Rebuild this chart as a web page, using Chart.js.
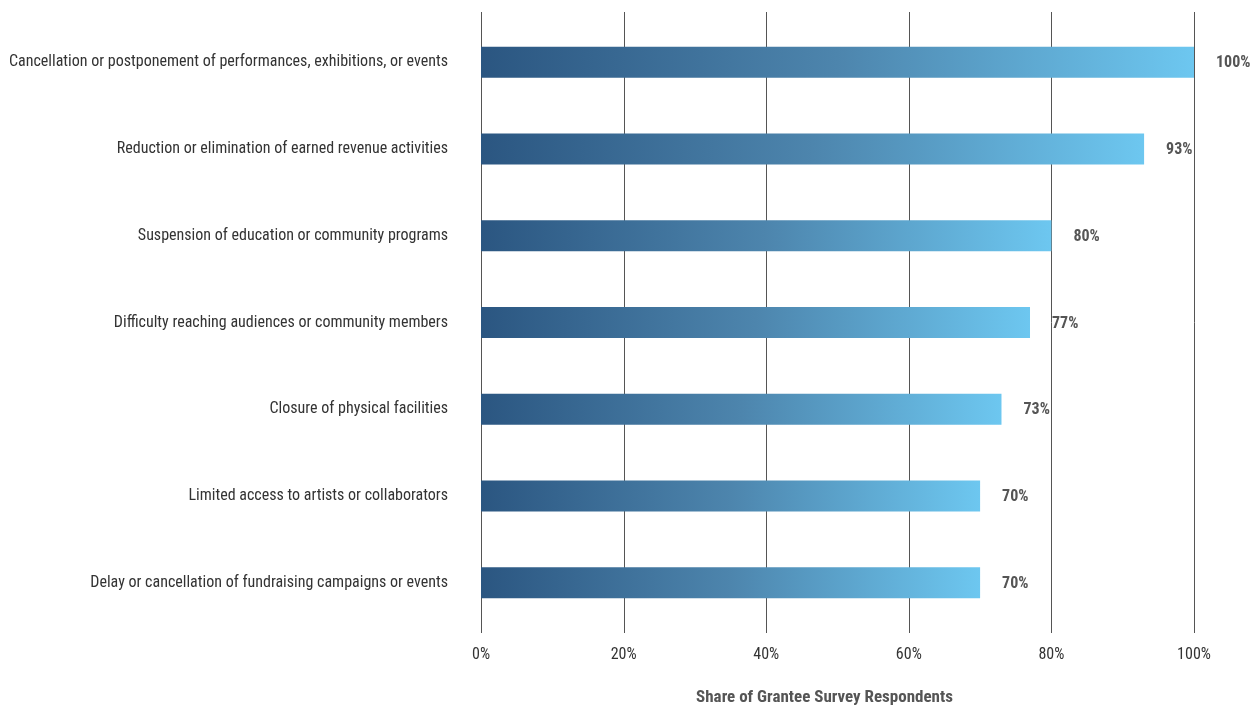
<!DOCTYPE html>
<html>
<head>
<meta charset="utf-8">
<script src="https://cdn.jsdelivr.net/npm/chart.js@4"></script>
<style>
  html, body { margin: 0; padding: 0; background: #fff; }
  #wrap { width: 1254px; height: 707px; position: relative; }
</style>
</head>
<body>
<div id="wrap"><canvas id="chart"></canvas></div>
<script>
const categories = [
    "Cancellation or postponement of performances, exhibitions, or events",
    "Reduction or elimination of earned revenue activities",
    "Suspension of education or community programs",
    "Difficulty reaching audiences or community members",
    "Closure of physical facilities",
    "Limited access to artists or collaborators",
    "Delay or cancellation of fundraising campaigns or events",
];
const shares = [100, 93, 80, 77, 73, 70, 70];
const tickValues = [0, 20, 40, 60, 80, 100];
const axisTitle = "Share of Grantee Survey Respondents";

const FONT = "'Roboto Condensed', 'Liberation Sans Narrow', 'DejaVu Sans Condensed', Roboto, sans-serif";

// gradient per bar, from its base to its end
function barGradient(ctx) {
    const chart = ctx.chart;
    if (!chart.chartArea) return "#2c5886";
    const x = chart.scales.x;
    const x0 = x.getPixelForValue(0);
    const x1 = x.getPixelForValue(shares[ctx.dataIndex]);
    const g = chart.ctx.createLinearGradient(x0, 0, x1, 0);
    g.addColorStop(0, "#2b5681");
    g.addColorStop(0.5, "#4d85ad");
    g.addColorStop(1, "#6dc7f0");
    return g;
}

const gridPlugin = {
    id: "grid",
    beforeDatasetsDraw(chart) {
        const { ctx, chartArea, scales } = chart;
        ctx.save();
        ctx.strokeStyle = "#555";
        ctx.lineWidth = 1;
        tickValues.forEach((v) => {
            const px = Math.round(scales.x.getPixelForValue(v)) + 0.5;
            ctx.beginPath();
            ctx.moveTo(px, chartArea.top - 7);
            ctx.lineTo(px, chartArea.bottom + 7);
            ctx.stroke();
        });
        ctx.restore();
    },
};

const valueLabels = {
    id: "valueLabels",
    afterDatasetsDraw(chart) {
        const { ctx, chartArea } = chart;
        const meta = chart.getDatasetMeta(0);
        ctx.save();
        ctx.font = "bold 16px " + FONT;
        ctx.fillStyle = "#555";
        ctx.textAlign = "left";
        ctx.textBaseline = "middle";
        meta.data.forEach((bar, i) => {
            ctx.fillText(shares[i] + "%", bar.x + 22, bar.y + 1);
        });
        // axis title, set a little left of the plot centre as in the source
        ctx.font = "bold 17px " + FONT;
        ctx.textAlign = "center";
        ctx.fillText(axisTitle, (chartArea.left + chartArea.right) / 2 - 13, chart.height - 9);
        ctx.restore();
    },
};

new Chart(document.getElementById("chart"), {
    type: "bar",
    data: {
        labels: categories,
        datasets: [{
            data: shares,
            backgroundColor: barGradient,
            barPercentage: 0.9,
            categoryPercentage: 0.397,
        }],
    },
    options: {
        indexAxis: "y",
        responsive: true,
        maintainAspectRatio: false,
        animation: false,
        layout: { padding: { left: 10, right: 60, top: 19, bottom: 0 } },
        plugins: {
            legend: { display: false },
            tooltip: { enabled: false },
        },
        scales: {
            x: {
                min: 0,
                max: 100,
                afterBuildTicks: (s) => { s.ticks = tickValues.map((v) => ({ value: v })); },
                grid: { display: false, drawTicks: true, tickLength: 7 },
                border: { display: false },
                ticks: {
                    color: "#333",
                    font: { family: FONT, size: 16 },
                    padding: 12,
                    callback: (v) => v + "%",
                },
                afterFit: (s) => {
                    s.height = 81;
                    s.paddingLeft = 0;
                    s.paddingRight = 0;
                },
            },
            y: {
                grid: { display: false, drawTicks: false },
                border: { display: false },
                ticks: {
                    color: "#333",
                    font: { family: FONT, size: 16 },
                    padding: 33,
                },
                afterFit: (s) => {
                    s.width = 471;
                    s.paddingTop = 0;
                    s.paddingBottom = 0;
                },
            },
        },
    },
    plugins: [gridPlugin, valueLabels],
});
</script>
</body>
</html>
